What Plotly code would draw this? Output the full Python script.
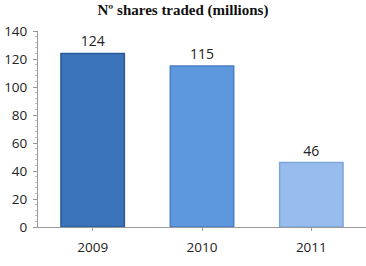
import plotly.graph_objects as go

years = ["2009", "2010", "2011"]
shares = [124, 115, 46]
bar_colors = ["#3b74bb", "#5d97dd", "#97bdee"]
edge_colors = ["#2a5a94", "#4a7fc0", "#7fa5d6"]

fig = go.Figure()
fig.add_trace(go.Bar(
    x=years, y=shares,
    marker=dict(color=bar_colors, line=dict(color=edge_colors, width=1.5)),
    width=0.58,
    text=[str(v) for v in shares], textposition="outside",
    textfont=dict(family="Open Sans, Liberation Sans", size=14, color="#222"),
    cliponaxis=False,
))
fig.update_layout(
    width=366, height=266,
    margin=dict(l=38, r=0, t=31, b=39),
    paper_bgcolor="white", plot_bgcolor="white",
    showlegend=False,
    title=dict(text="<b>Nº shares traded (millions)</b>", x=0.5, xanchor="center",
               y=0.962, yanchor="middle",
               font=dict(family="Liberation Serif", size=15, color="#111")),
)
fig.update_yaxes(range=[0, 140], dtick=20, showline=True, linecolor="#999", linewidth=1,
                 ticks="outside", ticklen=4, tickcolor="#999",
                 minor=dict(ticks="outside", ticklen=2, dtick=4, tickcolor="#bbb"),
                 showgrid=False, zeroline=False, ticklabelstandoff=3,
                 tickfont=dict(family="Open Sans, Liberation Sans", size=13.5, color="#222"))
fig.update_xaxes(showline=True, linecolor="#999", linewidth=1, ticks="outside", ticklen=3,
                 tickcolor="#999", showgrid=False, ticklabelstandoff=5,
                 tickfont=dict(family="Open Sans, Liberation Sans", size=13.5, color="#222"))
fig.write_html("out.html")
